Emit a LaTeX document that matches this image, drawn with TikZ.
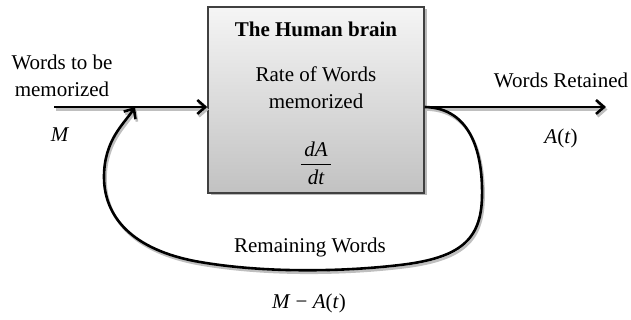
\documentclass[tikz,border=0pt]{standalone}
\usepackage{amsmath, amsfonts, amssymb}
\usepackage{fontspec}
\setmainfont{Liberation Serif}
\usetikzlibrary{arrows.meta, shadows}

% the three connectors, drawn once as shadow and once on top
\newcommand{\flowlines}{%
\draw[flow] (in) -- (brain.west |- in);
\draw[flow] (brain.east |- out) -- (out);
\draw[flow] (brain.east |- out) .. controls (472,108) and (483,155) .. (482,197)
  .. controls (481,240) and (460,258) .. (400,265)
  .. controls (350,271) and (270,274) .. (200,262)
  .. controls (130,250) and (104,215) .. (104,177)
  .. controls (104,140) and (124,124) .. (merge);
}

\begin{document}
\begin{tikzpicture}[x=1pt, y=-1pt,
  every node/.style={font=\fontsize{21}{27}\selectfont, align=center, inner sep=0pt},
  flow/.style={line width=2.6pt, -{Straight Barb[length=8pt, width=14pt, line width=2.6pt]}},
  brainbox/.style={draw=black!75, line width=1.4pt, top color=gray!8, bottom color=gray!48,
    minimum width=216pt, minimum height=186pt,
    drop shadow={shadow xshift=2.5pt, shadow yshift=-2.5pt, fill=gray!55, opacity=1}}]
\useasboundingbox (0,0) rectangle (631,320);
\node[brainbox] (brain) at (316,100) {};
\coordinate (in) at (54,107);
\coordinate (out) at (606,107);
\coordinate (merge) at (135,107);
\begin{scope}[transform canvas={xshift=1.5pt, yshift=-2.5pt}, flow/.append style={draw=gray!50}]
\flowlines
\end{scope}
\flowlines
\node (title) at (316,29) {\bfseries The Human brain};
\node (rate) at (316,88) {Rate of Words\\memorized};
\node (rateeq) at (316,163) {$\dfrac{\,\textit{dA}\,}{\,\textit{dt}\,}$};
\node (input) at (62,76) {Words to be\\memorized};
\node (inputeq) at (60,135) {\textit{M}};
\node (output) at (561,80) {Words Retained};
\node (outputeq) at (561,138) {\textit{A}(\textit{t})};
\node (remain) at (310,247) {Remaining Words};
\node (remaineq) at (309,303) {\textit{M} − \textit{A}(\textit{t})};
\end{tikzpicture}
\end{document}
